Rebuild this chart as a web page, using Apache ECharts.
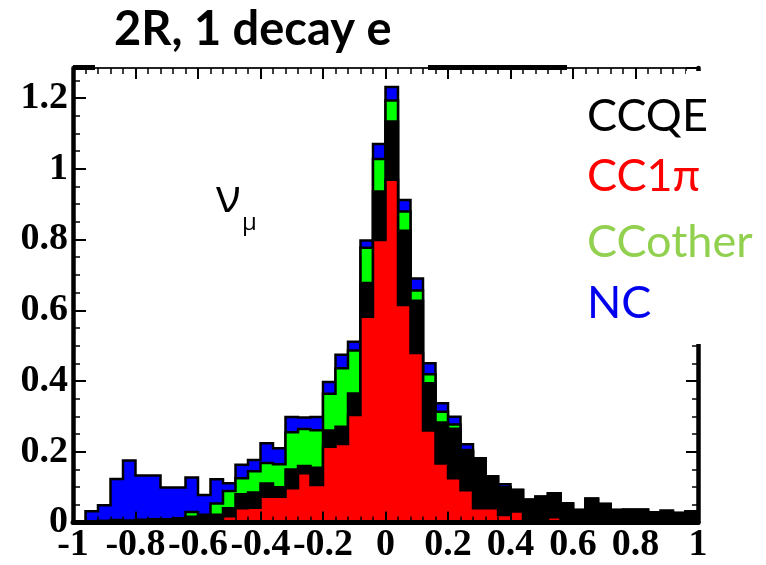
<!DOCTYPE html>
<html><head><meta charset="utf-8">
<script src="https://cdn.jsdelivr.net/npm/echarts@6/dist/echarts.min.js"></script>
<style>html,body{margin:0;padding:0;background:#fff}#c{width:766px;height:565px}</style>
</head><body><div id="c"></div>
<script>
// ---- data ----
const binLow = [-1.00,-0.96,-0.92,-0.88,-0.84,-0.80,-0.76,-0.72,-0.68,-0.64,
                -0.60,-0.56,-0.52,-0.48,-0.44,-0.40,-0.36,-0.32,-0.28,-0.24,
                -0.20,-0.16,-0.12,-0.08,-0.04, 0.00, 0.04, 0.08, 0.12, 0.16,
                 0.20, 0.24, 0.28, 0.32, 0.36, 0.40, 0.44, 0.48, 0.52, 0.56,
                 0.60, 0.64, 0.68, 0.72, 0.76, 0.80, 0.84, 0.88, 0.92, 0.96];
const binWidth = 0.04;
const cc1pi = [0,0,0,0,0,0,0,0,0,0,
  0,0.002,0.018,0.04,0.042,0.073,0.073,0.097,0.139,0.106,
  0.214,0.222,0.304,0.582,0.799,0.969,0.615,0.479,0.26,0.167,
  0.125,0.091,0.04,0.04,0.021,0.031,0,0,0.015,0,
  0,0,0,0,0,0,0,0,0,0];
const ccqe = [0,0.003,0.004,0.005,0.005,0.006,0.006,0.006,0.008,0.016,
  0.018,0.02,0.022,0.04,0.043,0.037,0.027,0.053,0.021,0.049,
  0.046,0.049,0.061,0.095,0.137,0.165,0.21,0.148,0.134,0.116,
  0.14,0.109,0.142,0.09,0.079,0.061,0.064,0.073,0.068,0.054,
  0.035,0.067,0.052,0.035,0.036,0.036,0.029,0.028,0.027,0.031];
const ccother = [0,0,0,0.002,0,0.002,0.003,0.003,0.004,0.014,
  0.004,0.032,0.049,0.045,0.06,0.058,0.065,0.105,0.104,0.106,
  0.104,0.165,0.121,0.1,0.092,0.059,0.054,0.029,0.025,0.03,
  0.012,0.005,0,0,0,0,0,0,0,0,
  0,0,0,0,0,0,0,0,0,0];
const nc = [0,0.029,0.045,0.116,0.17,0.125,0.124,0.09,0.087,0.097,
  0.056,0.068,0.022,0.038,0.032,0.056,0.045,0.043,0.033,0.037,
  0.033,0.038,0.025,0.02,0.042,0.038,0.033,0.034,0.031,0.024,
  0.022,0.016,0,0,0.008,0,0,0,0,0,
  0,0,0,0,0,0,0,0.006,0,0];
const xMin = -1, xMax = 1, xStep = 0.2;
const yMin = 0, yMax = 1.285, yStep = 0.2;
const title = '2R, 1 decay e';
const legendNames = ['CCQE', 'CC1π', 'CCother', 'NC'];

// ---- styles ----
const FILL = {nc:'#0000ff', ccother:'#00ff00', ccqe:'#000000', cc1pi:'#ff0000'};
const LEG_COLORS = ['#000000', '#ff0000', '#92d050', '#0000ee'];

// cumulative stacks (bottom: CC1pi, CCQE, CCother, NC top)
const cumR = cc1pi.slice();
const cumQ = cumR.map((v,i)=>v+ccqe[i]);
const cumO = cumQ.map((v,i)=>v+ccother[i]);
const cumT = cumO.map((v,i)=>v+nc[i]);

function histSeries(cum, fill) {
  return {
    type: 'custom', coordinateSystem: 'cartesian2d', xAxisIndex: 0, yAxisIndex: 0,
    silent: true, animation: false, clip: true,
    data: [[0, 0]],
    renderItem: function (params, api) {
      const pts = [api.coord([binLow[0], 0])];
      for (let i = 0; i < cum.length; i++) {
        pts.push(api.coord([binLow[i], cum[i]]));
        pts.push(api.coord([binLow[i] + binWidth, cum[i]]));
      }
      pts.push(api.coord([binLow[cum.length-1] + binWidth, 0]));
      return {type: 'polygon', shape: {points: pts},
        style: {fill: fill, stroke: '#000', lineWidth: 2.5, lineJoin: 'miter'}};
    }
  };
}

const serif = '"Liberation Serif", "Times New Roman", serif';
const sans = 'Lato, "Open Sans", "DejaVu Sans", sans-serif';
function yFmt(v){ const r = Math.round(v*10)/10; if (Math.abs(v-r) > 1e-6 || Math.round(r*10) % 2) return ''; return String(r); }
function xFmt(v){ return String(Math.round(v*10)/10); }

const chart = echarts.init(document.getElementById('c'), null, {renderer: 'canvas'});
chart.setOption({
  backgroundColor: '#fff',
  animation: false,
  grid: {left: 73, right: 68, top: 68, bottom: 42.5, containLabel: false, outerBoundsMode: 'none'},
  xAxis: [{
    type: 'value', min: xMin, max: xMax, interval: xStep, position: 'bottom', z: 5,
    axisLine: {show: true, onZero: false, lineStyle: {color: '#000', width: 5}},
    axisTick: {show: true, inside: true, length: 11, lineStyle: {color: '#000', width: 2}},
    minorTick: {show: true, splitNumber: 5, length: 6, lineStyle: {color: '#000', width: 1.5}},
    splitLine: {show: false},
    axisLabel: {show: true, margin: 4, color: '#000', fontFamily: serif, fontWeight: 'bold', fontSize: 38,
      hideOverlap: false, showMinLabel: true, showMaxLabel: true, formatter: xFmt}
  }, {
    type: 'value', min: xMin, max: xMax, interval: xStep, position: 'top', z: 5,
    axisLine: {show: true, onZero: false, lineStyle: {color: '#222', width: 2}},
    axisTick: {show: true, inside: true, length: 11, lineStyle: {color: '#000', width: 2}},
    minorTick: {show: true, splitNumber: 5, length: 6, lineStyle: {color: '#000', width: 1.5}},
    splitLine: {show: false}, axisLabel: {show: false}
  }],
  yAxis: [{
    type: 'value', min: yMin, max: yMax, interval: yStep, position: 'left', z: 5,
    axisLine: {show: true, onZero: false, lineStyle: {color: '#000', width: 4.5}},
    axisTick: {show: true, inside: true, length: 13, lineStyle: {color: '#000', width: 2}},
    minorTick: {show: true, splitNumber: 4, length: 7, lineStyle: {color: '#000', width: 1.5}},
    splitLine: {show: false},
    axisLabel: {show: true, margin: 5, color: '#000', fontFamily: serif, fontWeight: 'bold', fontSize: 38,
      showMinLabel: true, showMaxLabel: true, formatter: yFmt}
  }, {
    type: 'value', min: yMin, max: yMax, interval: yStep, position: 'right', z: 5,
    axisLine: {show: true, onZero: false, lineStyle: {color: '#000', width: 4.5}},
    axisTick: {show: true, inside: true, length: 12, lineStyle: {color: '#000', width: 2}},
    minorTick: {show: true, splitNumber: 4, length: 6, lineStyle: {color: '#000', width: 1.5}},
    splitLine: {show: false}, axisLabel: {show: false}
  }],
  series: [
    histSeries(cumT, FILL.nc),
    histSeries(cumO, FILL.ccother),
    histSeries(cumQ, FILL.ccqe),
    histSeries(cumR, FILL.cc1pi)
  ],
  graphic: [
    {type: 'rect', z: 100, shape: {x: 686, y: 71, width: 24, height: 273}, style: {fill: '#fff'}},
    {type: 'rect', z: 100, shape: {x: 73, y: 65, width: 22, height: 5}, style: {fill: '#000'}},
    {type: 'rect', z: 100, shape: {x: 428, y: 65, width: 139, height: 5}, style: {fill: '#000'}},
    {type: 'text', z: 100, style: {x: 114, y: 30, text: title, fill: '#000',
      font: 'bold 47px ' + sans, textAlign: 'left', textVerticalAlign: 'middle'}},
    {type: 'text', z: 100, style: {x: 587, y: 116, text: legendNames[0], fill: LEG_COLORS[0],
      font: '45px ' + sans, textAlign: 'left', textVerticalAlign: 'middle'}},
    {type: 'text', z: 100, style: {x: 587, y: 176, text: legendNames[1], fill: LEG_COLORS[1],
      font: '45px ' + sans, textAlign: 'left', textVerticalAlign: 'middle'}},
    {type: 'text', z: 100, style: {x: 587, y: 242, text: legendNames[2], fill: LEG_COLORS[2],
      font: '45px ' + sans, textAlign: 'left', textVerticalAlign: 'middle'}},
    {type: 'text', z: 100, style: {x: 587, y: 303, text: legendNames[3], fill: LEG_COLORS[3],
      font: '45px ' + sans, textAlign: 'left', textVerticalAlign: 'middle'}},
    {type: 'text', z: 100, style: {x: 216, y: 199, text: 'ν', fill: '#000',
      font: '46px "Open Sans", sans-serif', textAlign: 'left', textVerticalAlign: 'middle'}},
    {type: 'text', z: 100, style: {x: 242, y: 223, text: 'μ', fill: '#000',
      font: '24px "Open Sans", sans-serif', textAlign: 'left', textVerticalAlign: 'middle'}}
  ]
});
</script></body></html>
